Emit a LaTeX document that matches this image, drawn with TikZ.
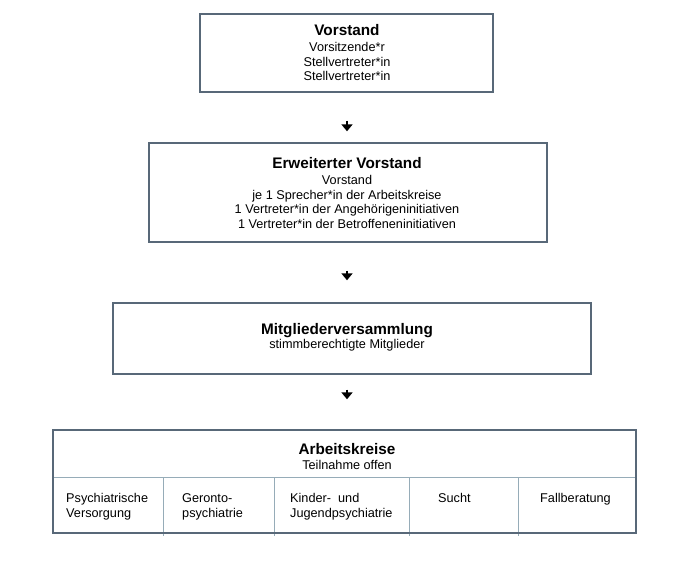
\documentclass[tikz,border=0pt]{standalone}
\usepackage{fontspec}
\setmainfont{Liberation Sans}
\usetikzlibrary{arrows.meta}
\definecolor{frame}{RGB}{88,104,120}
\definecolor{grid}{RGB}{150,172,184}
\begin{document}
\begin{tikzpicture}[x=1pt,y=-1pt,
  box/.style={draw=frame,line width=1.4pt,inner sep=0pt,fill=white},
  ttl/.style={font=\fontsize{15.3}{17}\selectfont\bfseries,anchor=base,inner sep=0pt},
  txt/.style={font=\fontsize{12.7}{14.5}\selectfont,align=center,anchor=base,inner sep=0pt},
  cell/.style={font=\fontsize{12.7}{14.5}\selectfont,align=left,anchor=base west,inner sep=0pt},
  arr/.style={line width=2.8pt,-{Triangle[length=7pt,width=11pt]}},
  divider/.style={draw=grid,line width=0.8pt}]
\fill[white] (0,0) rectangle (680,560);
\useasboundingbox (0,0) rectangle (680,560);

% boxes
\node[box,minimum width=293pt,minimum height=78pt] (b1) at (346.5,53) {};
\node[box,minimum width=398pt,minimum height=99pt] (b2) at (348,192.5) {};
\node[box,minimum width=478pt,minimum height=71pt] (b3) at (352,338.5) {};

% box 4 inner lines
\draw[divider] (53,477) -- (636,477);
\draw[divider] (163,477) -- (163,536);
\draw[divider] (274,477) -- (274,536);
\draw[divider] (409,477) -- (409,536);
\draw[divider] (518,477) -- (518,536);
\node[box,fill=none,minimum width=583pt,minimum height=103pt] (b4) at (344.5,481.5) {};

% texts (base = baseline of the last line)
\node[ttl] (t1) at (347,35.5) {Vorstand};
\node[txt] (s1) at (347,80.5) {Vorsitzende*r\\Stellvertreter*in\\Stellvertreter*in};

\node[ttl] (t2) at (347,168.5) {Erweiterter Vorstand};
\node[txt] (s2) at (347,228) {Vorstand\\je 1 Sprecher*in der Arbeitskreise\\1 Vertreter*in der Angehörigeninitiativen\\1 Vertreter*in der Betroffeneninitiativen};

\node[ttl] (t3) at (347,334.5) {Mitgliederversammlung};
\node[txt] (s3) at (347,348) {stimmberechtigte Mitglieder};

\node[ttl] (t4) at (347,454.5) {Arbeitskreise};
\node[txt] (s4) at (347,469.5) {Teilnahme offen};

\node[cell] (c1) at (66,517) {Psychiatrische\\Versorgung};
\node[cell] (c2) at (182,517) {Geronto-\\psychiatrie};
\node[cell] (c3) at (290,517) {Kinder-\ \ und\\Jugendpsychiatrie};
\node[cell] (c4) at (438,502.5) {Sucht};
\node[cell] (c5) at (540,502.5) {Fallberatung};

% arrows
\draw[arr,shorten <=28pt,shorten >=11pt] (t1 |- b1.south) -- (t1 |- b2.north);
\draw[arr,shorten <=28pt,shorten >=22pt] (t2 |- b2.south) -- (t2 |- b3.north);
\draw[arr,shorten <=15pt,shorten >=30pt] (t3 |- b3.south) -- (t3 |- b4.north);
\end{tikzpicture}
\end{document}
